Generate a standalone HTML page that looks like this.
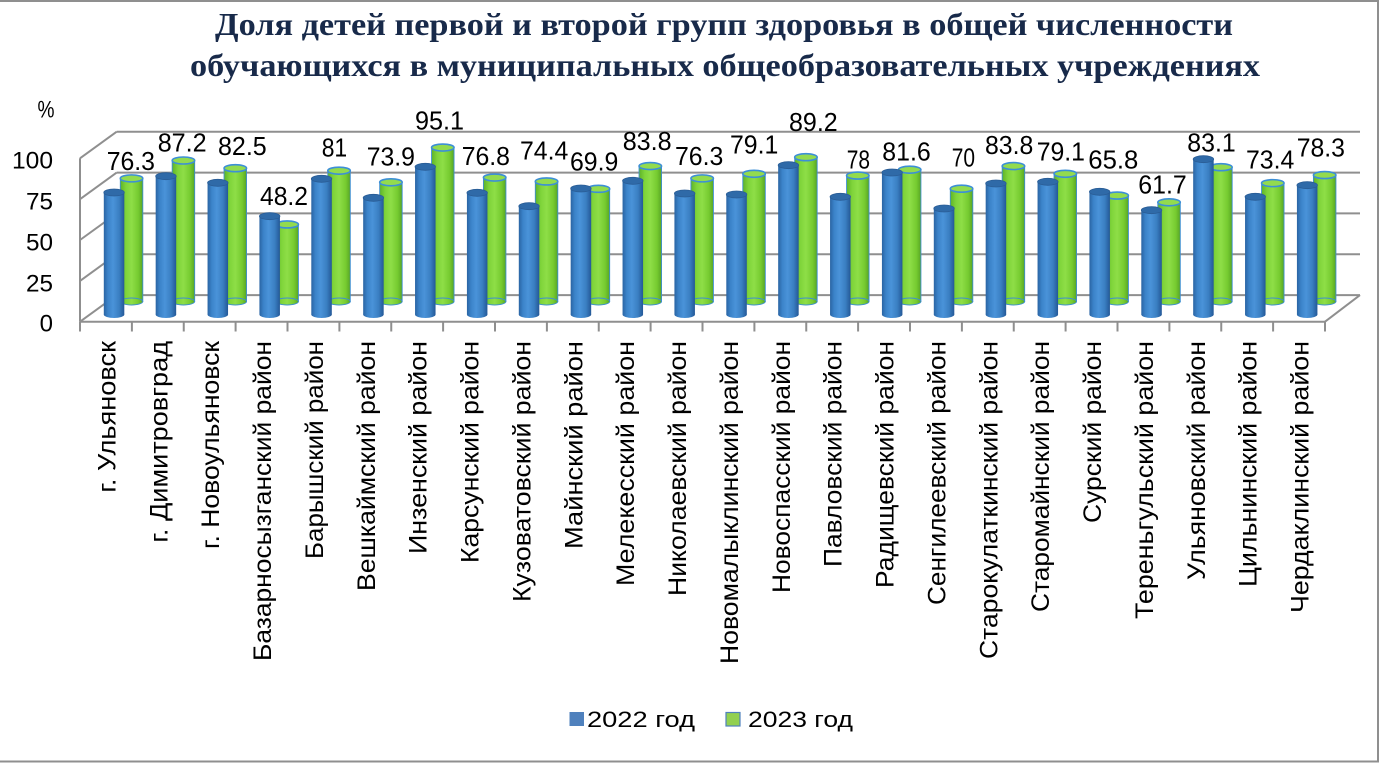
<!DOCTYPE html>
<html><head><meta charset="utf-8"><style>
html,body{margin:0;padding:0;background:#fff;}
svg{display:block;}
.t{font-family:"Liberation Serif","Noto Serif CJK SC",serif;font-weight:bold;font-size:32px;fill:#182a4a;}
.s{font-family:"Liberation Sans","Noto Sans CJK SC",sans-serif;fill:#000;}
.dl{font-size:25.5px;}
.cl{font-size:25px;text-anchor:end;}
.yl{font-size:24px;text-anchor:end;}
.g{stroke:#8f8f8f;stroke-width:2;fill:none;}
.bb{fill:url(#bB);}
.bt{fill:#2f6aa8;stroke:#2a5d96;stroke-width:0.8;}
.gb{fill:url(#gB);stroke:#3f8fd0;stroke-width:0.9;}
.gt{fill:#93db4e;stroke:#3d8fd6;stroke-width:1.6;}
</style></head><body>
<svg width="1381" height="768" viewBox="0 0 1381 768" xmlns="http://www.w3.org/2000/svg">
<defs>
<linearGradient id="bB" x1="0" y1="0" x2="1" y2="0">
<stop offset="0" stop-color="#2a64a3"/><stop offset="0.2" stop-color="#3b83c9"/><stop offset="0.45" stop-color="#4a93d9"/><stop offset="0.75" stop-color="#3a7fc2"/><stop offset="1" stop-color="#245897"/>
</linearGradient>
<linearGradient id="gB" x1="0" y1="0" x2="1" y2="0">
<stop offset="0" stop-color="#5eb229"/><stop offset="0.25" stop-color="#7fd43a"/><stop offset="0.5" stop-color="#8ede47"/><stop offset="0.8" stop-color="#76cb30"/><stop offset="1" stop-color="#58a524"/>
</linearGradient>
</defs>

<!-- border -->
<path d="M0,1 H1378 V761.5 H0" fill="none" stroke="#8f8f8f" stroke-width="2"/>

<!-- title -->
<text class="t" x="215" y="35" textLength="1018" lengthAdjust="spacingAndGlyphs">Доля детей первой и второй групп здоровья в общей численности</text>
<text class="t" x="190" y="76" textLength="1070" lengthAdjust="spacingAndGlyphs">обучающихся в муниципальных общеобразовательных учреждениях</text>

<!-- back wall gridlines -->
<g class="g">
<line x1="116.7" y1="131.7" x2="1360" y2="131.7"/>
<line x1="116.7" y1="172.6" x2="1360" y2="172.6"/>
<line x1="116.7" y1="213.4" x2="1360" y2="213.4"/>
<line x1="116.7" y1="254.3" x2="1360" y2="254.3"/>
<line x1="116.7" y1="295.1" x2="1360" y2="295.1"/>
<line x1="80" y1="158.3" x2="116.7" y2="131.7"/>
<line x1="80" y1="199.2" x2="116.7" y2="172.6"/>
<line x1="80" y1="240" x2="116.7" y2="213.4"/>
<line x1="80" y1="280.9" x2="116.7" y2="254.3"/>
<line x1="80" y1="321.7" x2="116.7" y2="295.1"/>
<line x1="80" y1="158.3" x2="80" y2="321.7"/>
<line x1="80" y1="321.7" x2="1325" y2="321.7"/>
<line x1="1325" y1="321.7" x2="1360" y2="295.1"/>
<path d="M80,321.7V331.5M131.9,321.7V331.5M183.75,321.7V331.5M235.6,321.7V331.5M287.5,321.7V331.5M339.4,321.7V331.5M391.25,321.7V331.5M443.1,321.7V331.5M495,321.7V331.5M546.9,321.7V331.5M598.75,321.7V331.5M650.6,321.7V331.5M702.5,321.7V331.5M754.4,321.7V331.5M806.25,321.7V331.5M858.1,321.7V331.5M910,321.7V331.5M961.9,321.7V331.5M1013.75,321.7V331.5M1065.6,321.7V331.5M1117.5,321.7V331.5M1169.4,321.7V331.5M1221.25,321.7V331.5M1273.1,321.7V331.5M1325,321.7V331.5"/>
</g>

<!-- y axis labels -->
<text class="s" x="37.5" y="117.5" font-size="24" textLength="17" lengthAdjust="spacingAndGlyphs">%</text>
<text class="s yl" x="53" y="168.3" textLength="41" lengthAdjust="spacingAndGlyphs">100</text>
<text class="s yl" x="53" y="209.5" textLength="27" lengthAdjust="spacingAndGlyphs">75</text>
<text class="s yl" x="53" y="250.5" textLength="27" lengthAdjust="spacingAndGlyphs">50</text>
<text class="s yl" x="53" y="291.3" textLength="27" lengthAdjust="spacingAndGlyphs">25</text>
<text class="s yl" x="53" y="331.7">0</text>

<!-- green bars (back row) -->
<g>
<rect class="gb" x="120.3" y="178.37" width="22.5" height="123.13"/><ellipse class="gb" cx="131.55" cy="301.5" rx="11.25" ry="3.5"/><ellipse class="gt" cx="131.55" cy="178.37" rx="11.25" ry="3.5"/>
<rect class="gb" x="172.175" y="160.49" width="22.5" height="141.01"/><ellipse class="gb" cx="183.425" cy="301.5" rx="11.25" ry="3.5"/><ellipse class="gt" cx="183.425" cy="160.49" rx="11.25" ry="3.5"/>
<rect class="gb" x="224.05" y="168.2" width="22.5" height="133.3"/><ellipse class="gb" cx="235.3" cy="301.5" rx="11.25" ry="3.5"/><ellipse class="gt" cx="235.3" cy="168.2" rx="11.25" ry="3.5"/>
<rect class="gb" x="275.925" y="224.45" width="22.5" height="77.05"/><ellipse class="gb" cx="287.175" cy="301.5" rx="11.25" ry="3.5"/><ellipse class="gt" cx="287.175" cy="224.45" rx="11.25" ry="3.5"/>
<rect class="gb" x="327.8" y="170.66" width="22.5" height="130.84"/><ellipse class="gb" cx="339.05" cy="301.5" rx="11.25" ry="3.5"/><ellipse class="gt" cx="339.05" cy="170.66" rx="11.25" ry="3.5"/>
<rect class="gb" x="379.675" y="182.3" width="22.5" height="119.2"/><ellipse class="gb" cx="390.925" cy="301.5" rx="11.25" ry="3.5"/><ellipse class="gt" cx="390.925" cy="182.3" rx="11.25" ry="3.5"/>
<rect class="gb" x="431.55" y="147.54" width="22.5" height="153.96"/><ellipse class="gb" cx="442.8" cy="301.5" rx="11.25" ry="3.5"/><ellipse class="gt" cx="442.8" cy="147.54" rx="11.25" ry="3.5"/>
<rect class="gb" x="483.425" y="177.55" width="22.5" height="123.95"/><ellipse class="gb" cx="494.675" cy="301.5" rx="11.25" ry="3.5"/><ellipse class="gt" cx="494.675" cy="177.55" rx="11.25" ry="3.5"/>
<rect class="gb" x="535.3" y="181.48" width="22.5" height="120.02"/><ellipse class="gb" cx="546.55" cy="301.5" rx="11.25" ry="3.5"/><ellipse class="gt" cx="546.55" cy="181.48" rx="11.25" ry="3.5"/>
<rect class="gb" x="587.175" y="188.86" width="22.5" height="112.64"/><ellipse class="gb" cx="598.425" cy="301.5" rx="11.25" ry="3.5"/><ellipse class="gt" cx="598.425" cy="188.86" rx="11.25" ry="3.5"/>
<rect class="gb" x="639.05" y="166.07" width="22.5" height="135.43"/><ellipse class="gb" cx="650.3" cy="301.5" rx="11.25" ry="3.5"/><ellipse class="gt" cx="650.3" cy="166.07" rx="11.25" ry="3.5"/>
<rect class="gb" x="690.925" y="178.37" width="22.5" height="123.13"/><ellipse class="gb" cx="702.175" cy="301.5" rx="11.25" ry="3.5"/><ellipse class="gt" cx="702.175" cy="178.37" rx="11.25" ry="3.5"/>
<rect class="gb" x="742.8" y="173.78" width="22.5" height="127.72"/><ellipse class="gb" cx="754.05" cy="301.5" rx="11.25" ry="3.5"/><ellipse class="gt" cx="754.05" cy="173.78" rx="11.25" ry="3.5"/>
<rect class="gb" x="794.675" y="157.21" width="22.5" height="144.29"/><ellipse class="gb" cx="805.925" cy="301.5" rx="11.25" ry="3.5"/><ellipse class="gt" cx="805.925" cy="157.21" rx="11.25" ry="3.5"/>
<rect class="gb" x="846.55" y="175.58" width="22.5" height="125.92"/><ellipse class="gb" cx="857.8" cy="301.5" rx="11.25" ry="3.5"/><ellipse class="gt" cx="857.8" cy="175.58" rx="11.25" ry="3.5"/>
<rect class="gb" x="898.425" y="169.68" width="22.5" height="131.82"/><ellipse class="gb" cx="909.675" cy="301.5" rx="11.25" ry="3.5"/><ellipse class="gt" cx="909.675" cy="169.68" rx="11.25" ry="3.5"/>
<rect class="gb" x="950.3" y="188.7" width="22.5" height="112.8"/><ellipse class="gb" cx="961.55" cy="301.5" rx="11.25" ry="3.5"/><ellipse class="gt" cx="961.55" cy="188.7" rx="11.25" ry="3.5"/>
<rect class="gb" x="1002.175" y="166.07" width="22.5" height="135.43"/><ellipse class="gb" cx="1013.425" cy="301.5" rx="11.25" ry="3.5"/><ellipse class="gt" cx="1013.425" cy="166.07" rx="11.25" ry="3.5"/>
<rect class="gb" x="1054.05" y="173.78" width="22.5" height="127.72"/><ellipse class="gb" cx="1065.3" cy="301.5" rx="11.25" ry="3.5"/><ellipse class="gt" cx="1065.3" cy="173.78" rx="11.25" ry="3.5"/>
<rect class="gb" x="1105.925" y="195.59" width="22.5" height="105.91"/><ellipse class="gb" cx="1117.175" cy="301.5" rx="11.25" ry="3.5"/><ellipse class="gt" cx="1117.175" cy="195.59" rx="11.25" ry="3.5"/>
<rect class="gb" x="1157.8" y="202.31" width="22.5" height="99.19"/><ellipse class="gb" cx="1169.05" cy="301.5" rx="11.25" ry="3.5"/><ellipse class="gt" cx="1169.05" cy="202.31" rx="11.25" ry="3.5"/>
<rect class="gb" x="1209.675" y="167.22" width="22.5" height="134.28"/><ellipse class="gb" cx="1220.925" cy="301.5" rx="11.25" ry="3.5"/><ellipse class="gt" cx="1220.925" cy="167.22" rx="11.25" ry="3.5"/>
<rect class="gb" x="1261.55" y="183.12" width="22.5" height="118.38"/><ellipse class="gb" cx="1272.8" cy="301.5" rx="11.25" ry="3.5"/><ellipse class="gt" cx="1272.8" cy="183.12" rx="11.25" ry="3.5"/>
<rect class="gb" x="1313.425" y="175.09" width="22.5" height="126.41"/><ellipse class="gb" cx="1324.675" cy="301.5" rx="11.25" ry="3.5"/><ellipse class="gt" cx="1324.675" cy="175.09" rx="11.25" ry="3.5"/>
</g>

<!-- blue bars (front row) -->
<g>
<rect class="bb" x="103.8" y="192.5" width="20.5" height="122"/><ellipse class="bb" cx="114.05" cy="314.5" rx="10.25" ry="3.5"/><ellipse class="bt" cx="114.05" cy="192.5" rx="10.25" ry="3.5"/>
<rect class="bb" x="155.675" y="176.2" width="20.5" height="138.3"/><ellipse class="bb" cx="165.925" cy="314.5" rx="10.25" ry="3.5"/><ellipse class="bt" cx="165.925" cy="176.2" rx="10.25" ry="3.5"/>
<rect class="bb" x="207.55" y="182.8" width="20.5" height="131.7"/><ellipse class="bb" cx="217.8" cy="314.5" rx="10.25" ry="3.5"/><ellipse class="bt" cx="217.8" cy="182.8" rx="10.25" ry="3.5"/>
<rect class="bb" x="259.425" y="216.2" width="20.5" height="98.3"/><ellipse class="bb" cx="269.675" cy="314.5" rx="10.25" ry="3.5"/><ellipse class="bt" cx="269.675" cy="216.2" rx="10.25" ry="3.5"/>
<rect class="bb" x="311.3" y="178.8" width="20.5" height="135.7"/><ellipse class="bb" cx="321.55" cy="314.5" rx="10.25" ry="3.5"/><ellipse class="bt" cx="321.55" cy="178.8" rx="10.25" ry="3.5"/>
<rect class="bb" x="363.175" y="197.8" width="20.5" height="116.7"/><ellipse class="bb" cx="373.425" cy="314.5" rx="10.25" ry="3.5"/><ellipse class="bt" cx="373.425" cy="197.8" rx="10.25" ry="3.5"/>
<rect class="bb" x="415.05" y="166.8" width="20.5" height="147.7"/><ellipse class="bb" cx="425.3" cy="314.5" rx="10.25" ry="3.5"/><ellipse class="bt" cx="425.3" cy="166.8" rx="10.25" ry="3.5"/>
<rect class="bb" x="466.925" y="192.8" width="20.5" height="121.7"/><ellipse class="bb" cx="477.175" cy="314.5" rx="10.25" ry="3.5"/><ellipse class="bt" cx="477.175" cy="192.8" rx="10.25" ry="3.5"/>
<rect class="bb" x="518.8" y="206.2" width="20.5" height="108.3"/><ellipse class="bb" cx="529.05" cy="314.5" rx="10.25" ry="3.5"/><ellipse class="bt" cx="529.05" cy="206.2" rx="10.25" ry="3.5"/>
<rect class="bb" x="570.675" y="188.5" width="20.5" height="126"/><ellipse class="bb" cx="580.925" cy="314.5" rx="10.25" ry="3.5"/><ellipse class="bt" cx="580.925" cy="188.5" rx="10.25" ry="3.5"/>
<rect class="bb" x="622.55" y="180.8" width="20.5" height="133.7"/><ellipse class="bb" cx="632.8" cy="314.5" rx="10.25" ry="3.5"/><ellipse class="bt" cx="632.8" cy="180.8" rx="10.25" ry="3.5"/>
<rect class="bb" x="674.425" y="193.5" width="20.5" height="121"/><ellipse class="bb" cx="684.675" cy="314.5" rx="10.25" ry="3.5"/><ellipse class="bt" cx="684.675" cy="193.5" rx="10.25" ry="3.5"/>
<rect class="bb" x="726.3" y="194.5" width="20.5" height="120"/><ellipse class="bb" cx="736.55" cy="314.5" rx="10.25" ry="3.5"/><ellipse class="bt" cx="736.55" cy="194.5" rx="10.25" ry="3.5"/>
<rect class="bb" x="778.175" y="165.2" width="20.5" height="149.3"/><ellipse class="bb" cx="788.425" cy="314.5" rx="10.25" ry="3.5"/><ellipse class="bt" cx="788.425" cy="165.2" rx="10.25" ry="3.5"/>
<rect class="bb" x="830.05" y="196.8" width="20.5" height="117.7"/><ellipse class="bb" cx="840.3" cy="314.5" rx="10.25" ry="3.5"/><ellipse class="bt" cx="840.3" cy="196.8" rx="10.25" ry="3.5"/>
<rect class="bb" x="881.925" y="172.5" width="20.5" height="142"/><ellipse class="bb" cx="892.175" cy="314.5" rx="10.25" ry="3.5"/><ellipse class="bt" cx="892.175" cy="172.5" rx="10.25" ry="3.5"/>
<rect class="bb" x="933.8" y="208.5" width="20.5" height="106"/><ellipse class="bb" cx="944.05" cy="314.5" rx="10.25" ry="3.5"/><ellipse class="bt" cx="944.05" cy="208.5" rx="10.25" ry="3.5"/>
<rect class="bb" x="985.675" y="183.5" width="20.5" height="131"/><ellipse class="bb" cx="995.925" cy="314.5" rx="10.25" ry="3.5"/><ellipse class="bt" cx="995.925" cy="183.5" rx="10.25" ry="3.5"/>
<rect class="bb" x="1037.55" y="181.8" width="20.5" height="132.7"/><ellipse class="bb" cx="1047.8" cy="314.5" rx="10.25" ry="3.5"/><ellipse class="bt" cx="1047.8" cy="181.8" rx="10.25" ry="3.5"/>
<rect class="bb" x="1089.425" y="191.8" width="20.5" height="122.7"/><ellipse class="bb" cx="1099.675" cy="314.5" rx="10.25" ry="3.5"/><ellipse class="bt" cx="1099.675" cy="191.8" rx="10.25" ry="3.5"/>
<rect class="bb" x="1141.3" y="210.2" width="20.5" height="104.3"/><ellipse class="bb" cx="1151.55" cy="314.5" rx="10.25" ry="3.5"/><ellipse class="bt" cx="1151.55" cy="210.2" rx="10.25" ry="3.5"/>
<rect class="bb" x="1193.175" y="159.2" width="20.5" height="155.3"/><ellipse class="bb" cx="1203.425" cy="314.5" rx="10.25" ry="3.5"/><ellipse class="bt" cx="1203.425" cy="159.2" rx="10.25" ry="3.5"/>
<rect class="bb" x="1245.05" y="196.8" width="20.5" height="117.7"/><ellipse class="bb" cx="1255.3" cy="314.5" rx="10.25" ry="3.5"/><ellipse class="bt" cx="1255.3" cy="196.8" rx="10.25" ry="3.5"/>
<rect class="bb" x="1296.925" y="185.2" width="20.5" height="129.3"/><ellipse class="bb" cx="1307.175" cy="314.5" rx="10.25" ry="3.5"/><ellipse class="bt" cx="1307.175" cy="185.2" rx="10.25" ry="3.5"/>
</g>

<!-- data labels -->
<g class="s dl">
<text x="106.7" y="170" textLength="48.3" lengthAdjust="spacingAndGlyphs">76.3</text>
<text x="157.7" y="151.7" textLength="49" lengthAdjust="spacingAndGlyphs">87.2</text>
<text x="218" y="155" textLength="48.7" lengthAdjust="spacingAndGlyphs">82.5</text>
<text x="260" y="205" textLength="48" lengthAdjust="spacingAndGlyphs">48.2</text>
<text x="321.7" y="156.7" textLength="25.5" lengthAdjust="spacingAndGlyphs">81</text>
<text x="366.7" y="165.7" textLength="48.3" lengthAdjust="spacingAndGlyphs">73.9</text>
<text x="415" y="129.3" textLength="49" lengthAdjust="spacingAndGlyphs">95.1</text>
<text x="461.7" y="165" textLength="48.3" lengthAdjust="spacingAndGlyphs">76.8</text>
<text x="520" y="159.3" textLength="48.3" lengthAdjust="spacingAndGlyphs">74.4</text>
<text x="570" y="170.7" textLength="48.3" lengthAdjust="spacingAndGlyphs">69.9</text>
<text x="622.7" y="150" textLength="49" lengthAdjust="spacingAndGlyphs">83.8</text>
<text x="675" y="165" textLength="48.3" lengthAdjust="spacingAndGlyphs">76.3</text>
<text x="730" y="153.3" textLength="48.3" lengthAdjust="spacingAndGlyphs">79.1</text>
<text x="789" y="131" textLength="48.7" lengthAdjust="spacingAndGlyphs">89.2</text>
<text x="846.7" y="168.3" textLength="23.3" lengthAdjust="spacingAndGlyphs">78</text>
<text x="882.3" y="160.7" textLength="48.4" lengthAdjust="spacingAndGlyphs">81.6</text>
<text x="951.7" y="166.7" textLength="23.3" lengthAdjust="spacingAndGlyphs">70</text>
<text x="985" y="154" textLength="48.3" lengthAdjust="spacingAndGlyphs">83.8</text>
<text x="1036.7" y="160.7" textLength="48.3" lengthAdjust="spacingAndGlyphs">79.1</text>
<text x="1088.3" y="168.3" textLength="50" lengthAdjust="spacingAndGlyphs">65.8</text>
<text x="1138.3" y="193.3" textLength="48.4" lengthAdjust="spacingAndGlyphs">61.7</text>
<text x="1187.3" y="151.7" textLength="48.4" lengthAdjust="spacingAndGlyphs">83.1</text>
<text x="1246" y="168.3" textLength="48.3" lengthAdjust="spacingAndGlyphs">73.4</text>
<text x="1296.7" y="156.7" textLength="48.3" lengthAdjust="spacingAndGlyphs">78.3</text>
</g>

<!-- category labels -->
<g class="s cl">
<text transform="translate(115.4,341) rotate(-90)" textLength="151.7" lengthAdjust="spacingAndGlyphs">г. Ульяновск</text>
<text transform="translate(167.3,341) rotate(-90)" textLength="201.7" lengthAdjust="spacingAndGlyphs">г. Димитровград</text>
<text transform="translate(219.2,341) rotate(-90)" textLength="208" lengthAdjust="spacingAndGlyphs">г. Новоульяновск</text>
<text transform="translate(271,341) rotate(-90)" textLength="320" lengthAdjust="spacingAndGlyphs">Базарносызганский район</text>
<text transform="translate(322.9,341) rotate(-90)" textLength="218" lengthAdjust="spacingAndGlyphs">Барышский район</text>
<text transform="translate(374.8,341) rotate(-90)" textLength="250" lengthAdjust="spacingAndGlyphs">Вешкаймский район</text>
<text transform="translate(426.7,341) rotate(-90)" textLength="213" lengthAdjust="spacingAndGlyphs">Инзенский район</text>
<text transform="translate(478.5,341) rotate(-90)" textLength="222" lengthAdjust="spacingAndGlyphs">Карсунский район</text>
<text transform="translate(530.4,341) rotate(-90)" textLength="261" lengthAdjust="spacingAndGlyphs">Кузоватовский район</text>
<text transform="translate(582.3,341) rotate(-90)" textLength="208" lengthAdjust="spacingAndGlyphs">Майнский район</text>
<text transform="translate(634.2,341) rotate(-90)" textLength="245" lengthAdjust="spacingAndGlyphs">Мелекесский район</text>
<text transform="translate(686,341) rotate(-90)" textLength="255" lengthAdjust="spacingAndGlyphs">Николаевский район</text>
<text transform="translate(737.9,341) rotate(-90)" textLength="323" lengthAdjust="spacingAndGlyphs">Новомалыклинский район</text>
<text transform="translate(789.8,341) rotate(-90)" textLength="252" lengthAdjust="spacingAndGlyphs">Новоспасский район</text>
<text transform="translate(841.7,341) rotate(-90)" textLength="226" lengthAdjust="spacingAndGlyphs">Павловский район</text>
<text transform="translate(893.5,341) rotate(-90)" textLength="247" lengthAdjust="spacingAndGlyphs">Радищевский район</text>
<text transform="translate(945.4,341) rotate(-90)" textLength="264" lengthAdjust="spacingAndGlyphs">Сенгилеевский район</text>
<text transform="translate(997.3,341) rotate(-90)" textLength="318" lengthAdjust="spacingAndGlyphs">Старокулаткинский район</text>
<text transform="translate(1049.2,341) rotate(-90)" textLength="271" lengthAdjust="spacingAndGlyphs">Старомайнский район</text>
<text transform="translate(1101,341) rotate(-90)" textLength="182" lengthAdjust="spacingAndGlyphs">Сурский район</text>
<text transform="translate(1152.9,341) rotate(-90)" textLength="278" lengthAdjust="spacingAndGlyphs">Тереньгульский район</text>
<text transform="translate(1204.8,341) rotate(-90)" textLength="239" lengthAdjust="spacingAndGlyphs">Ульяновский район</text>
<text transform="translate(1256.7,341) rotate(-90)" textLength="246" lengthAdjust="spacingAndGlyphs">Цильнинский район</text>
<text transform="translate(1308.5,341) rotate(-90)" textLength="272" lengthAdjust="spacingAndGlyphs">Чердаклинский район</text>
</g>

<!-- legend -->
<rect x="569.5" y="712" width="14.5" height="14" fill="#4f81bd"/>
<text class="s" x="587" y="727" font-size="22" textLength="108" lengthAdjust="spacingAndGlyphs">2022 год</text>
<rect x="726" y="712.5" width="14" height="13.5" fill="#92d050" stroke="#4f81bd" stroke-width="1.2"/>
<text class="s" x="748" y="727" font-size="22" textLength="105" lengthAdjust="spacingAndGlyphs">2023 год</text>
</svg>
</body></html>
